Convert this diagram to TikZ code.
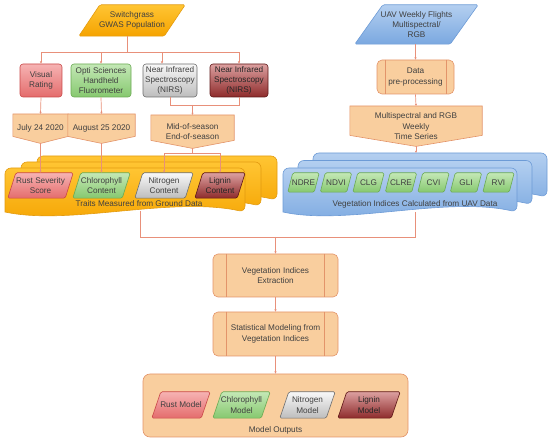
\documentclass[tikz,border=0pt]{standalone}
\usepackage{fontspec}
\setmainfont{Liberation Sans}
\usetikzlibrary{arrows.meta,calc}
\pgfdeclarelayer{docs}
\pgfdeclarelayer{shp}
\pgfsetlayers{docs,shp,main}
\definecolor{lnk}{HTML}{E8907A}
\definecolor{orF}{HTML}{F9CE9E}
\definecolor{orD}{HTML}{E3946A}
\definecolor{ylT}{HTML}{FFC533}
\definecolor{ylB}{HTML}{F5A300}
\definecolor{ylD}{HTML}{E39B10}
\definecolor{blT}{HTML}{B4CFF0}
\definecolor{blB}{HTML}{7AA8E0}
\definecolor{blD}{HTML}{6D9BD6}
\definecolor{rdT}{HTML}{F6B3B3}
\definecolor{rdB}{HTML}{E46C6C}
\definecolor{rdD}{HTML}{C94848}
\definecolor{grT}{HTML}{C4E8B6}
\definecolor{grB}{HTML}{86C86F}
\definecolor{grD}{HTML}{6BAA53}
\definecolor{gyT}{HTML}{F8F8F8}
\definecolor{gyB}{HTML}{BDBDBD}
\definecolor{gyD}{HTML}{6E6E6E}
\definecolor{drT}{HTML}{DCA0A0}
\definecolor{drB}{HTML}{8E2B2B}
\definecolor{drD}{HTML}{5E1616}
\definecolor{txtc}{HTML}{404040}
\tikzset{
  txt/.style={inner sep=0pt, align=center, font=\fontsize{8.2}{10.3}\selectfont, text=txtc},
  conn/.style={draw=lnk, line width=0.7pt, -{Latex[length=2.2pt,width=2.4pt]}},
  plainline/.style={draw=lnk, line width=0.7pt},
  yelF/.style={top color=ylT, bottom color=ylB, draw=ylD, line width=0.6pt, rounded corners=1.5pt},
  bluF/.style={top color=blT, bottom color=blB, draw=blD, line width=0.6pt, rounded corners=1.5pt},
  redP/.style={top color=rdT, bottom color=rdB, draw=rdD, line width=0.6pt, rounded corners=1.5pt},
  grnP/.style={top color=grT, bottom color=grB, draw=grD, line width=0.6pt, rounded corners=1.5pt},
  gryP/.style={top color=gyT, bottom color=gyB, draw=gyD, line width=0.6pt, rounded corners=1.5pt},
  drkP/.style={top color=drT, bottom color=drB, draw=drD, line width=0.6pt, rounded corners=1.5pt},
  redB/.style={redP, rounded corners=3pt},
  grnB/.style={grnP, rounded corners=3pt},
  gryB/.style={gryP, rounded corners=3pt},
  drkB/.style={drkP, rounded corners=3pt},
  penta/.style={fill=orF, draw=orD, line width=0.6pt},
  procbox/.style={fill=orF, draw=orD, line width=0.6pt, rounded corners=5pt},
  ydoc/.style={top color=ylT, bottom color=ylB, draw=ylD, line width=0.6pt},
  bdoc/.style={top color=blT, bottom color=blB, draw=blD, line width=0.6pt},
  outbox/.style={fill=orF, draw=orD, line width=0.6pt, rounded corners=7pt},
}
% parallelogram: name, cx, cy, width, height, slant, style, text
\newcommand\Para[8]{%
  \node[txt, minimum width=#4, minimum height=#5] (#1) at (#2,#3) {#8};
  \begin{pgfonlayer}{shp}
  \path[#7] ([xshift=#6]#1.north west) -- (#1.north east) -- ([xshift=-#6]#1.south east) -- (#1.south west) -- cycle;
  \end{pgfonlayer}}
% off-page pentagon: name, cx, ytop, width, total height, tip height, text
\newcommand\Pent[7]{%
  \node[txt, minimum width=#4, minimum height=#5, anchor=north] (#1) at (#2,#3) {#7};
  \begin{pgfonlayer}{shp}
  \path[penta] (#1.north west) -- (#1.north east) -- ([yshift=#6]#1.south east) -- (#1.south) -- ([yshift=#6]#1.south west) -- cycle;
  \end{pgfonlayer}}
% process box: name, cx, cy, width, height, inner offset, text
\newcommand\Proc[7]{%
  \node[txt, procbox, minimum width=#4, minimum height=#5] (#1) at (#2,#3) {#7};
  \draw[orD, line width=0.6pt] ([xshift=#6]#1.north west) -- ([xshift=#6]#1.south west)
    ([xshift=-#6]#1.north east) -- ([xshift=-#6]#1.south east);}
% document layer: x0, ytop, width, height, style
\newcommand\DocL[5]{%
  \pgfmathsetmacro\dxa{#1+#3}%
  \pgfmathsetmacro\dyb{#2+#4}%
  \pgfmathsetmacro\dca{#1+0.69*#3}%
  \pgfmathsetmacro\dcb{#1+0.27*#3}%
  \pgfmathsetmacro\dya{#2+#4-16}%
  \pgfmathsetmacro\dyc{#2+#4+14}%
  \path[#5] (#1,\dyb) [rounded corners=6pt] -- (#1,#2) -- (\dxa,#2) -- (\dxa,\dyb) [sharp corners]
    .. controls (\dca,\dya) and (\dcb,\dyc) .. (#1,\dyb) -- cycle;}
\begin{document}
\begin{tikzpicture}[x=1pt,y=-1pt]
\useasboundingbox (0,0) rectangle (550,441);

% ---- stacked documents
\begin{pgfonlayer}{docs}
\DocL{37}{156}{240}{44}{ydoc}
\DocL{21}{162}{240}{44}{ydoc}
\DocL{5}{168}{240}{44}{ydoc}
\DocL{313}{153}{234}{44}{bdoc}
\DocL{298}{160.5}{234}{44}{bdoc}
\DocL{283}{168}{234}{44}{bdoc}
\node[outbox, minimum width=265, minimum height=63] (outs) at (275.5,405.5) {};
\end{pgfonlayer}

% ---- left top
\Para{src}{132}{20.5}{106}{31}{21}{yelF}{Switchgrass\\GWAS Population}
\node[txt, redB, minimum width=42, minimum height=33] (vr) at (41,80.5) {Visual\\Rating};
\node[txt, grnB, minimum width=60, minimum height=33] (opti) at (101,80.5) {Opti Sciences\\Handheld\\Fluorometer};
\node[txt, gryB, minimum width=54, minimum height=33] (nir1) at (170,80.5) {Near Infrared\\Spectroscopy\\(NIRS)};
\node[txt, drkB, minimum width=58, minimum height=33, text=black!85] (nir2) at (239,80.5) {Near Infrared\\Spectroscopy\\(NIRS)};

\Pent{jul}{40.5}{114}{55}{29}{7}{July 24 2020}
\Pent{aug}{101.5}{114}{67}{29}{7}{August 25 2020}
\Pent{mid}{192.5}{115}{83}{33}{8}{Mid-of-season\\End-of-season}

\Para{rust}{40.5}{185.5}{65}{25}{8}{redP}{Rust Severity\\Score}
\Para{chl}{101.5}{185.5}{57}{25}{8}{grnP}{Chlorophyll\\Content}
\Para{nit}{164}{185.5}{58}{25}{8}{gryP}{Nitrogen\\Content}
\Para{lig}{220}{185.5}{50}{25}{8}{drkP}{\textcolor{black!85}{Lignin}\\\textcolor{black!85}{Content}}
\node[txt] (trl) at (139,204) {Traits Measured from Ground Data};

% ---- right top
\Para{uav}{416.5}{24.5}{123}{39}{28}{bluF}{UAV Weekly Flights\\Multispectral/\\RGB}
\Proc{dpp}{415.5}{77}{77}{34}{8.5}{Data\\pre-processing}
\Pent{msp}{416}{106}{132}{40}{11}{Multispectral and RGB\\Weekly\\Time Series}

\Para{ndre}{303.5}{182.5}{31}{19}{5}{grnP}{NDRE}
\Para{ndvi}{336}{182.5}{31}{19}{5}{grnP}{NDVI}
\Para{clg}{368.5}{182.5}{31}{19}{5}{grnP}{CLG}
\Para{clre}{401}{182.5}{31}{19}{5}{grnP}{CLRE}
\Para{cvi}{433.5}{182.5}{31}{19}{5}{grnP}{CVI}
\Para{gli}{466}{182.5}{31}{19}{5}{grnP}{GLI}
\Para{rvi}{498.5}{182.5}{31}{19}{5}{grnP}{RVI}
\node[txt] (vil) at (415,204) {Vegetation Indices Calculated from UAV Data};

% ---- bottom
\Proc{ext}{275.5}{275.5}{125}{43}{14}{Vegetation Indices\\Extraction}
\Proc{stat}{275.5}{334}{125}{44}{14}{Statistical Modeling from\\Vegetation Indices}
\Para{rm}{181}{405}{58}{26}{9}{redP}{Rust Model}
\Para{cm}{241.5}{405}{57}{26}{9}{grnP}{Chlorophyll\\Model}
\Para{nm}{307.5}{405}{55}{26}{9}{gryP}{Nitrogen\\Model}
\Para{lm}{369}{405}{62}{26}{9}{drkP}{\textcolor{black!85}{Lignin}\\\textcolor{black!85}{Model}}
\node[txt] (outl) at (275.5,430) {Model Outputs};

% ---- connectors
\coordinate (bus) at (127,52);
\draw[plainline] (src.south -| bus) -- (bus);
\draw[conn] (bus) -| (vr.north);
\draw[conn] (bus) -| (opti.north);
\draw[conn] (bus) -| ([xshift=-8]nir1.north);
\draw[conn] (bus) -| (nir2.north);
\draw[conn] (vr.south) -- (jul.north);
\draw[conn] (opti.south) -- (aug.north);
\coordinate (m1) at (192.5,105);
\draw[plainline] (nir1.south) |- (m1);
\draw[plainline] (nir2.south) |- (m1);
\draw[conn] (m1) -- (mid.north);
\draw[conn] (jul.south) -- (rust.north);
\draw[conn] (aug.south) -- (chl.north);
\coordinate (m2) at (192.5,153);
\draw[plainline] (mid.south) -- (m2);
\draw[conn] (m2) -| (nit.north);
\draw[conn] (m2) -| (lig.north);

\draw[conn] (uav.south -| dpp.north) -- (dpp.north);
\draw[conn] (dpp.south) -- (msp.north);
\coordinate (vtop) at (416,153);
\draw[conn] (msp.south) -- (vtop);

\coordinate (tb) at (140,211);
\coordinate (vb) at (415,212);
\coordinate (join) at (275.5,237);
\draw[plainline] (tb) |- (join);
\draw[plainline] (vb) |- (join);
\draw[conn] (join) -- (ext.north);
\draw[conn] (ext.south) -- (stat.north);
\draw[conn] (stat.south) -- (outs.north);
\end{tikzpicture}
\end{document}
